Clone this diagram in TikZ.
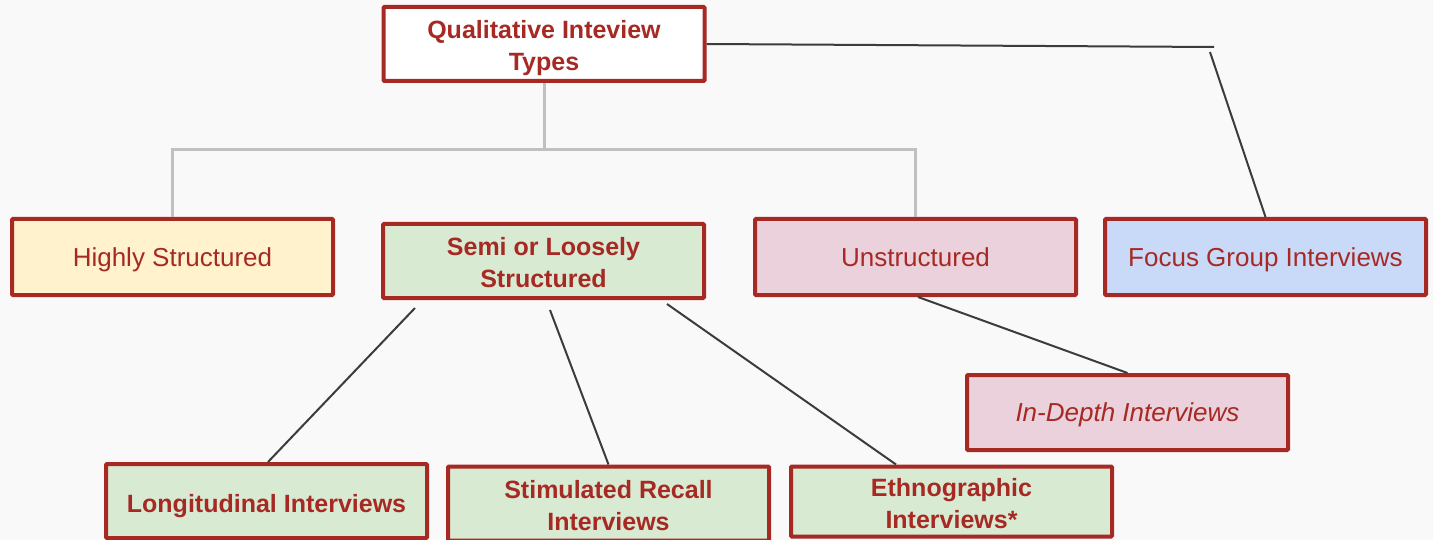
\documentclass[tikz,border=0pt]{standalone}
\usepackage{fontspec}
\setmainfont{Liberation Sans}
\definecolor{bg}{RGB}{249,249,249}
\definecolor{txt}{RGB}{166,41,36}
\definecolor{bord}{RGB}{166,41,36}
\definecolor{yel}{RGB}{255,242,204}
\definecolor{grn}{RGB}{217,234,211}
\definecolor{pnk}{RGB}{234,209,220}
\definecolor{blu}{RGB}{201,218,248}
\definecolor{gline}{RGB}{192,192,192}
\definecolor{dline}{RGB}{60,60,60}
\tikzset{
  box/.style={draw=bord, line width=4pt, rounded corners=1pt, minimum width=321pt, minimum height=75pt,
    text=txt, align=center, inner sep=0pt, font=\fontsize{26}{32}\selectfont,
    text height=19pt, text depth=0pt},
  bbox/.style={box, font=\fontsize{25}{32}\selectfont\bfseries, text height=53pt},
  glink/.style={draw=gline, line width=3pt},
  dlink/.style={draw=dline, line width=2pt}
}
\begin{document}
\begin{tikzpicture}[x=1pt,y=-1pt]
\fill[bg] (0,0) rectangle (1433,540);
\useasboundingbox (0,0) rectangle (1433,540);
\node[bbox, fill=white, minimum height=74pt, text height=54pt] (top) at (544,44) {Qualitative Inteview\\Types};
\node[box, fill=yel, minimum height=76pt] (hs) at (172.5,257) {Highly Structured};
\node[bbox, fill=grn, minimum height=74pt] (semi) at (543.5,261) {Semi or Loosely\\Structured};
\node[box, fill=pnk, minimum height=76pt] (us) at (915.5,257) {Unstructured};
\node[box, fill=blu, minimum height=76pt] (fg) at (1265.5,257) {Focus Group Interviews};
\node[box, fill=pnk, minimum height=75pt, font=\fontsize{26}{32}\selectfont\itshape, text height=18.5pt] (id) at (1127.5,412.5) {In-Depth Interviews};
\node[bbox, fill=grn, minimum height=74pt, text height=22pt] (lg) at (266.5,501) {Longitudinal Interviews};
\node[bbox, fill=grn, minimum height=74pt] (sr) at (608.5,503.5) {Stimulated Recall\\Interviews};
\node[bbox, fill=grn, minimum height=70pt] (eth) at (951.5,501.5) {Ethnographic\\Interviews*};
\coordinate (bar) at (544,150);
\draw[glink] (top.south) -- (top.south |- bar);
\draw[glink] (hs.north) |- (bar) -| (us.north);
\coordinate (fgA) at (1214,47);
\coordinate (fgB) at (1210,52);
\draw[dlink] (top.east) -- (fgA);
\draw[dlink] (fgB) -- (fg.north);
\coordinate (s1) at (415,308);
\coordinate (s2) at (550,310);
\coordinate (s3) at (667,304);
\draw[dlink] (s1) -- (lg.north -| 268,0);
\draw[dlink] (s2) -- (sr.north);
\draw[dlink] (s3) -- (eth.north -| 896,0);
\draw[dlink] (us.south -| 918,0) -- (id.north);
\end{tikzpicture}
\end{document}
